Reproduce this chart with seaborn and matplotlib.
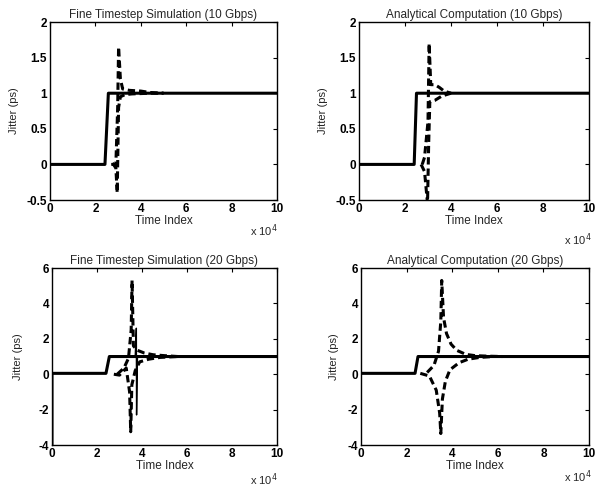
import numpy as np
import pandas as pd
import seaborn as sns
import matplotlib
matplotlib.use('Agg')
import matplotlib.pyplot as plt

# time index in units of 1e4
# --- 10 Gbps, fine timestep simulation
sim10_step_x = [0, 2.42, 2.57, 10]
sim10_step_y = [0, 0, 1.0, 1.0]
sim10_up_x = [2.7, 2.9, 2.98, 3.02, 3.1, 3.2, 3.5, 4.0, 4.4, 5.0]
sim10_up_y = [0.0, 0.0, 0.8, 1.65, 1.2, 1.06, 1.04, 1.03, 1.01, 1.0]
sim10_lo_x = [2.75, 2.9, 2.96, 3.02, 3.1, 3.3, 3.6, 4.4, 5.0]
sim10_lo_y = [0.02, -0.05, -0.4, 0.8, 0.95, 0.98, 0.99, 1.0, 1.0]

# --- 10 Gbps, analytical computation
ana10_step_x = [0, 2.4, 2.5, 10]
ana10_step_y = [0, 0, 1.0, 1.0]
ana10_up_x = [2.75, 2.85, 3.0, 3.05, 3.12, 3.3, 3.5, 3.7, 4.0]
ana10_up_y = [0.0, 0.1, 0.6, 1.7, 1.12, 1.12, 1.08, 1.03, 1.0]
ana10_lo_x = [2.7, 2.85, 2.98, 3.03, 3.08, 3.3, 3.6, 4.0]
ana10_lo_y = [0.0, -0.1, -0.55, 0.3, 0.88, 0.9, 0.96, 1.0]

# --- 20 Gbps, fine timestep simulation
sim20_step_x = [0, 0, 2.4, 2.55, 10]
sim20_step_y = [-4.5, 0.05, 0.05, 1.0, 1.0]
sim20_spike_x = [3.7, 3.75, 3.76, 3.8]
sim20_spike_y = [1.0, 2.6, -2.3, 1.0]
sim20_up_x = [2.9, 3.2, 3.4, 3.52, 3.56, 3.62, 3.8, 4.1, 4.5, 5.0, 5.6]
sim20_up_y = [0.0, 0.35, 0.9, 2.5, 5.3, 1.6, 1.35, 1.2, 1.1, 1.05, 1.0]
sim20_lo_x = [2.75, 3.0, 3.3, 3.45, 3.5, 3.55, 3.7, 3.9, 4.3, 4.8, 5.6]
sim20_lo_y = [0.0, -0.05, 0.35, -1.0, -3.25, -0.6, 0.2, 0.7, 0.85, 0.95, 1.0]

# --- 20 Gbps, analytical computation
ana20_step_x = [0, 2.37, 2.5, 10]
ana20_step_y = [0.05, 0.05, 1.0, 1.0]
ana20_up_x = [2.9, 3.2, 3.4, 3.5, 3.54, 3.62, 3.75, 3.95, 4.2, 4.6, 5.0, 5.6, 6.2]
ana20_up_y = [0.1, 0.5, 1.3, 3.0, 5.3, 3.2, 2.3, 1.7, 1.35, 1.12, 1.05, 1.02, 1.0]
ana20_lo_x = [2.6, 3.0, 3.3, 3.45, 3.5, 3.57, 3.7, 3.9, 4.3, 4.7, 5.2, 5.8]
ana20_lo_y = [0.05, -0.1, -0.9, -2.2, -3.35, -1.4, -0.4, 0.25, 0.65, 0.85, 0.95, 1.0]

titles = ['Fine Timestep Simulation (10 Gbps)', 'Analytical Computation (10 Gbps)',
          'Fine Timestep Simulation (20 Gbps)', 'Analytical Computation (20 Gbps)']
xticks = [0, 2, 4, 6, 8, 10]
yticks_10 = [-0.5, 0, 0.5, 1, 1.5, 2]
ytlabels_10 = ['-0.5', '0', '0.5', '1', '1.5', '2']
yticks_20 = [-4, -2, 0, 2, 4, 6]

sns.set_style('white')
plt.rcParams['font.family'] = ['Liberation Sans', 'DejaVu Sans']
plt.rcParams['axes.unicode_minus'] = False

fig = plt.figure(figsize=(5.96, 4.87), dpi=100)
boxes = [[0.0839, 0.5893, 0.381, 0.3655],
         [0.6023, 0.5893, 0.386, 0.3655],
         [0.0872, 0.0862, 0.3775, 0.3634],
         [0.6057, 0.0862, 0.3826, 0.3634]]
# where the "x 10^4" and the y label sit, axes coords
exp_pos = [(0.88, -0.17), (0.89, -0.225), (0.88, -0.198), (0.89, -0.18)]
ylab_x = [-0.135, -0.135, -0.13, -0.095]

panels = [
    (sim10_step_x, sim10_step_y, [(sim10_up_x, sim10_up_y), (sim10_lo_x, sim10_lo_y)], None),
    (ana10_step_x, ana10_step_y, [(ana10_up_x, ana10_up_y), (ana10_lo_x, ana10_lo_y)], None),
    (sim20_step_x, sim20_step_y, [(sim20_up_x, sim20_up_y), (sim20_lo_x, sim20_lo_y)],
     (sim20_spike_x, sim20_spike_y)),
    (ana20_step_x, ana20_step_y, [(ana20_up_x, ana20_up_y), (ana20_lo_x, ana20_lo_y)], None),
]

for i, (sx, sy, dashed, spike) in enumerate(panels):
    ax = fig.add_axes(boxes[i])
    sns.lineplot(x=sx, y=sy, ax=ax, color='black', linewidth=2.2, sort=False, estimator=None)
    for dx, dy in dashed:
        sns.lineplot(x=dx, y=dy, ax=ax, color='black', linewidth=2.2, sort=False,
                     estimator=None, dashes=False, linestyle=(0, (2.4, 1.3)))
    if spike is not None:
        sns.lineplot(x=spike[0], y=spike[1], ax=ax, color='black', linewidth=1.0,
                     sort=False, estimator=None)
    ax.set_xlim(0, 10)
    ax.set_xticks(xticks)
    ax.set_xticklabels([str(t) for t in xticks])
    if i < 2:
        ax.set_ylim(-0.5, 2)
        ax.set_yticks(yticks_10)
        ax.set_yticklabels(ytlabels_10)
    else:
        ax.set_ylim(-4, 6)
        ax.set_yticks(yticks_20)
        ax.set_yticklabels([str(t) for t in yticks_20])
    ax.tick_params(direction='in', top=True, right=True, length=3, width=0.8,
                   labelsize=8.5, pad=2, colors='black')
    for lab in ax.get_xticklabels() + ax.get_yticklabels():
        lab.set_fontweight('bold')
    for sp in ax.spines.values():
        sp.set_color('black')
        sp.set_linewidth(1.0)
    ax.set_title(titles[i], fontsize=8.5, pad=3)
    ax.set_xlabel('Time Index', fontsize=8.5, labelpad=0)
    ax.set_ylabel('Jitter (ps)', fontsize=8)
    ax.yaxis.set_label_coords(ylab_x[i], 0.5)
    ax.text(exp_pos[i][0], exp_pos[i][1], 'x 10$^4$', transform=ax.transAxes,
            fontsize=8, ha='left', va='center')

fig.savefig('out.png', dpi=100, facecolor='white')
